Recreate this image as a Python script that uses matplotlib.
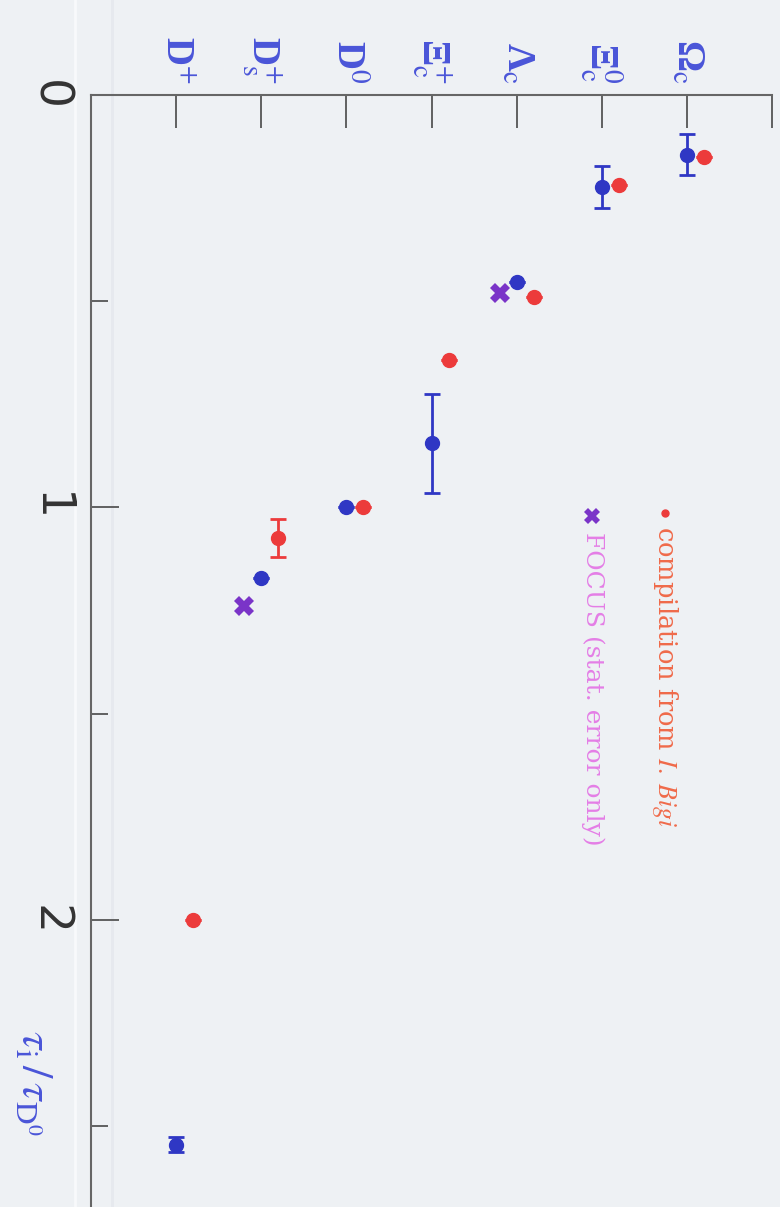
import numpy as np
import matplotlib.pyplot as plt
from matplotlib.lines import Line2D

plt.rcParams['mathtext.fontset'] = 'stix'

# particles, left to right (D+ ... Omega_c)
particles = ['D$^{+}$', 'D$_{\\mathrm{s}}^{+}$', 'D$^{0}$',
             '\u039e$_{\\mathrm{c}}^{+}$', '\u039b$_{\\mathrm{c}}$', '\u039e$_{\\mathrm{c}}^{0}$',
             '\u03a9$_{\\mathrm{c}}$']
pos = np.arange(1, 8)

# lifetime ratio tau_i / tau_D0 -- measurements (blue)
meas = [2.545, 1.17, 1.0, 0.844, 0.453, 0.223, 0.145]
meas_err = [0.018, 0.0, 0.0, 0.12, 0.0, 0.05, 0.05]
# compilation from I. Bigi (red)
bigi = [2.0, 1.074, 1.0, 0.642, 0.49, 0.218, 0.15]
bigi_err = [0.0, 0.045, 0.0, 0.0, 0.0, 0.0, 0.0]
# FOCUS (stat. error only)
focus_pos = [2, 5]
focus = [1.24, 0.48]

blue = '#2f37c4'
red = '#ec3b3b'
purple = '#7a34c8'
bg = '#eef1f4'

fig = plt.figure(figsize=(7.8, 12.07), dpi=100, facecolor=bg)

# faint scan stripes (behind everything)
for xp, c in [(75, '#f8f9fb'), (112, '#e6e9ee')]:
    fig.add_artist(Line2D([xp/780, xp/780], [0, 1], color=c, lw=2,
                          transform=fig.transFigure, zorder=-5))

ax = fig.add_axes([91/780, 0.0, 681/780, 1 - 95/1207])
ax.patch.set_alpha(0)

ax.errorbar(pos, meas, yerr=meas_err, fmt='o', color=blue, ms=10,
            elinewidth=2, capsize=6, capthick=2, zorder=3)
ax.errorbar(pos + 0.2, bigi, yerr=bigi_err, fmt='o', color=red, ms=10,
            elinewidth=2, capsize=6, capthick=2, zorder=3)
ax.plot(np.array(focus_pos) - 0.2, focus, 'X', color=purple, ms=15, mew=0, zorder=4)

# legend, drawn by hand in the rotated frame
ax.plot([6.74], [1.013], 'o', color=red, ms=5)
ax.text(6.74, 1.045, r'compilation from $\it{I.\ Bigi}$', rotation=-90, ha='center',
        va='top', color='#f06a4a', fontsize=18.5, family='DejaVu Serif')
ax.plot([5.89], [1.02], 'X', color=purple, ms=11, mew=0)
ax.text(5.89, 1.06, 'FOCUS (stat. error only)', rotation=-90, ha='center',
        va='top', color='#e47ee6', fontsize=18, family='DejaVu Serif')

ax.set_xlim(0, 8)
ax.set_ylim(2.696, 0)

for s in ['right', 'bottom']:
    ax.spines[s].set_visible(False)
for s in ['top', 'left']:
    ax.spines[s].set_color('#666666')
    ax.spines[s].set_linewidth(1.5)

ax.xaxis.tick_top()
ax.set_xticks(list(pos) + [8])
ax.set_xticklabels(particles + [''], rotation=-90, color='#4a55d8', fontsize=28,
                   family='Liberation Serif', fontweight='bold')
ax.tick_params(axis='x', direction='in', length=24, width=1.3, color='#555555', pad=8)

ax.set_yticks([0, 1, 2])
ax.set_yticklabels(['0', '1', '2'], rotation=-90, fontsize=34, color='#333333',
                   va='center')
ax.set_yticks([0.5, 1.5, 2.5], minor=True)
ax.tick_params(axis='y', which='major', direction='in', length=20, width=1.3,
               color='#555555', pad=14)
ax.tick_params(axis='y', which='minor', direction='in', length=12, width=1.3,
               color='#555555')

fig.text(34/780, 1 - 1030/1207, r'$\tau_{\mathrm{i}}\,/\,\tau_{\mathrm{D}^{0}}$', rotation=-90,
         ha='center', va='top', color='#4a55d8', fontsize=32)

fig.savefig('out.png', dpi=100, facecolor=bg)
